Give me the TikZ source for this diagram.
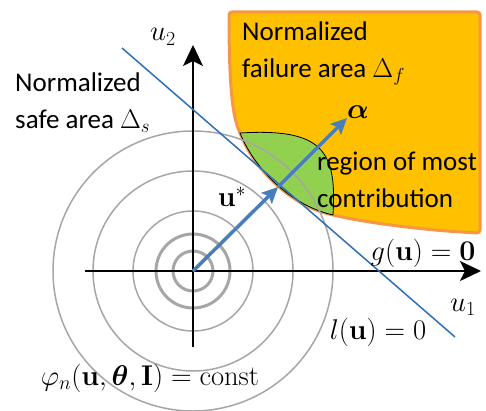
\RequirePackage{fix-cm}
\documentclass[tikz,border=0pt]{standalone}
\usepackage{amsmath}
\usepackage[no-math]{fontspec}
\setmainfont{Carlito}
\usetikzlibrary{arrows.meta}

\definecolor{failfill}{HTML}{FFC000}
\definecolor{failedge}{HTML}{F79646}
\definecolor{mostfill}{HTML}{92D050}
\definecolor{vecblue}{HTML}{4A7EBB}
\definecolor{lineblue}{HTML}{2F6EBA}
\definecolor{ringgray}{HTML}{A6A6A6}

\begin{document}
\begin{tikzpicture}[
    x=10pt, y=10pt,
    axis/.style={black, line width=1.5pt, -{Stealth[length=21pt, width=20pt, inset=5pt]}},
    ring/.style={ringgray},
    vec/.style={vecblue, line width=3.5pt, -{Stealth[length=16pt, width=15pt, inset=3pt]}},
    lline/.style={lineblue, line width=1.5pt},
    failarea/.style={fill=failfill, draw=failedge, line width=3pt, rounded corners=3pt},
    mostarea/.style={fill=mostfill, draw=black, line width=0.8pt},
    lbl/.style={font=\fontsize{27}{37}\selectfont, inner sep=0pt},
    mlbl/.style={font=\fontsize{28.5}{37}\selectfont, inner sep=0pt}
]

\useasboundingbox (-19.3,-13.9) rectangle (29.3,27.1);

% -------- Points --------
\coordinate (O) at (0,0);
\coordinate (xmin) at (-10.8,0);
\coordinate (xmax) at (28.8,0);
\coordinate (ymin) at (0,-7.6);
\coordinate (ymax) at (0,22.6);

\coordinate (gtop) at (3.6,25.9);
\coordinate (gA) at (4.7,13.8);
\coordinate (gB) at (14.0,5.6);
\coordinate (gend) at (28.7,3.8);
\coordinate (fcorner) at (28.7,25.9);

\coordinate (lA) at (-7.1,22.3);
\coordinate (lB) at (26.2,-6.6);

\coordinate (ustar) at (8.5,8.4);
\coordinate (alphatip) at (15.4,15.3);

% -------- Failure area g(u) > 0 --------
\path[failarea] (gtop) .. controls (3.6,18) and (4.0,15.5) .. (gA)
    .. controls (6.3,9.9) and (10,6.5) .. (gB)
    .. controls (18,4.7) and (24,4.0) .. (gend)
    -- (fcorner) -- cycle;

% -------- Region of most contribution --------
\path[mostarea] (gA) .. controls (6.3,9.9) and (10,6.5) .. (gB)
    .. controls (14.4,12) and (13,14.3) .. (gA) -- cycle;

% -------- Contours of phi_n --------
\foreach \r/\w in {2.0/3pt, 3.7/3pt, 6.0/1.5pt, 10.0/1.5pt, 14.0/1.5pt} {
    \draw[ring, line width=\w] (O) circle (\r);
}

% -------- Axes --------
\draw[axis] (xmin) -- (xmax);
\draw[axis] (ymin) -- (ymax);

% -------- Linearized limit state --------
\draw[lline] (lA) -- (lB);

% -------- Design point and direction --------
\draw[vec] (O) -- (ustar);
\draw[vec] (ustar) -- (alphatip);

% -------- Labels --------
\node[mlbl] (lblU2) at (-3.0,23.4) {$u_2$};
\node[mlbl] (lblU1) at (27.0,-3.6) {$u_1$};
\node[lbl, anchor=west, align=left] (lblSafe) at (-17.8,16.85)
    {Normalized\\safe area $\Delta_s$};
\node[lbl, anchor=west, align=left] (lblFail) at (4.9,21.75)
    {Normalized\\failure area $\Delta_f$};
\node[mlbl] (lblAlpha) at (16.5,15.9) {$\boldsymbol{\alpha}$};
\node[lbl, anchor=west, align=left] (lblRegion) at (12.4,9.1)
    {region of most\\contribution};
\node[mlbl] (lblUstar) at (3.9,7.4) {$\mathbf{u}^{*}$};
\node[mlbl] (lblG) at (23.0,1.8) {$g(\mathbf{u})=\mathbf{0}$};
\node[mlbl] (lblL) at (18.5,-6.1) {$l(\mathbf{u})=0$};
\node[mlbl] (lblPhi) at (-4.3,-10.7)
    {$\varphi_n(\mathbf{u},\boldsymbol{\theta},\mathbf{I})=\mathrm{const}$};

\end{tikzpicture}
\end{document}
